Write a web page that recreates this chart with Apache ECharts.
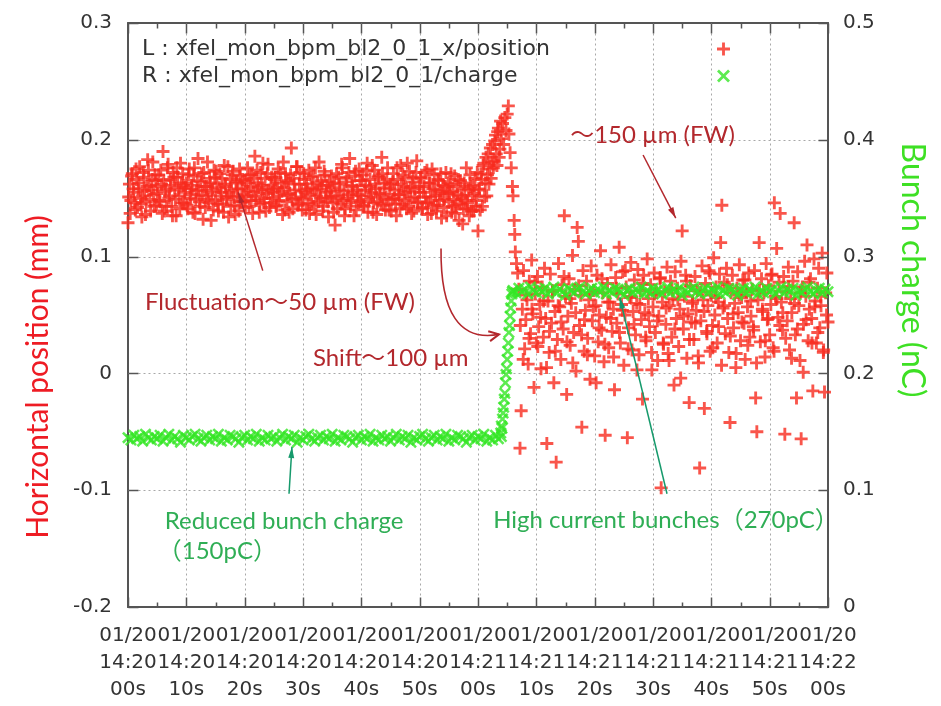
<!DOCTYPE html>
<html>
<head>
<meta charset="utf-8">
<script src="https://cdn.jsdelivr.net/npm/echarts@6/dist/echarts.min.js"></script>
<style>
html, body { margin: 0; padding: 0; background: #fff; }
#main { width: 941px; height: 706px; }
</style>
</head>
<body>
<div id="main"></div>
<script>
// x axis: seconds after 01/20 14:20:00
var xTickLabels = [
    '01/20\n14:20\n00s', '01/20\n14:20\n10s', '01/20\n14:20\n20s', '01/20\n14:20\n30s',
    '01/20\n14:20\n40s', '01/20\n14:20\n50s', '01/20\n14:21\n00s', '01/20\n14:21\n10s',
    '01/20\n14:21\n20s', '01/20\n14:21\n30s', '01/20\n14:21\n40s', '01/20\n14:21\n50s',
    '01/20\n14:22\n00s'
];
var xTicks = [0, 10, 20, 30, 40, 50, 60, 70, 80, 90, 100, 110, 120];
var xMinorTicks = [5, 15, 25, 35, 45, 55, 65, 75, 85, 95, 105, 115];
var yLeftTicks = [-0.2, -0.1, 0, 0.1, 0.2, 0.3];
var yRightTicks = [0, 0.1, 0.2, 0.3, 0.4, 0.5];

var redName = 'L : xfel_mon_bpm_bl2_0_1_x/position';
var greenName = 'R : xfel_mon_bpm_bl2_0_1/charge';

// horizontal position (mm), one sample every 0.25 s from 14:20:00
var redPre = [
    0.129,0.162,0.148,0.171,0.155,0.140,0.166,0.158,0.177,0.145,0.152,0.168,0.136,0.160,0.174,0.149,0.157,0.181,0.143,0.165,
    0.154,0.170,0.147,0.162,0.190,0.139,0.158,0.176,0.150,0.166,0.143,0.172,0.159,0.135,0.168,0.152,0.180,0.146,0.161,0.155,
    0.163,0.141,0.175,0.150,0.158,0.169,0.137,0.156,0.184,0.147,0.164,0.153,0.172,0.142,0.160,0.149,0.167,0.131,0.157,0.174,
    0.148,0.162,0.139,0.171,0.155,0.145,0.178,0.160,0.151,0.134,0.166,0.157,0.173,0.144,0.163,0.152,0.139,0.169,0.158,0.147,
    0.165,0.151,0.176,0.143,0.160,0.170,0.155,0.186,0.148,0.163,0.138,0.172,0.157,0.146,0.167,0.154,0.179,0.142,0.161,0.150,
    0.158,0.168,0.144,0.175,0.152,0.163,0.136,0.159,0.171,0.147,0.165,0.154,0.193,0.141,0.162,0.150,0.177,0.145,0.172,0.156,
    0.149,0.166,0.140,0.158,0.174,0.153,0.145,0.169,0.157,0.136,0.163,0.181,0.150,0.161,0.143,0.170,0.155,0.147,0.164,0.152,
    0.159,0.138,0.127,0.171,0.150,0.162,0.145,0.176,0.156,0.141,0.167,0.153,0.184,0.148,0.160,0.135,0.173,0.157,0.146,0.165,
    0.152,0.170,0.143,0.161,0.180,0.149,0.166,0.155,0.138,0.174,0.158,0.147,0.169,0.153,0.185,0.144,0.163,0.151,0.176,0.140,
    0.162,0.149,0.171,0.157,0.135,0.166,0.153,0.178,0.145,0.160,0.168,0.141,0.156,0.173,0.150,0.164,0.139,0.158,0.182,0.147,
    0.155,0.167,0.142,0.160,0.151,0.174,0.146,0.163,0.137,0.158,0.170,0.152,0.144,0.165,0.156,0.133,0.161,0.149,0.172,0.154,
    0.147,0.162,0.138,0.156,0.169,0.144,0.153,0.131,0.165,0.150,0.141,0.158,0.176,0.146,0.135,0.160,0.152,0.139,0.167,0.148,
    0.122,0.157,0.171,0.143,0.180,0.163,0.152,0.188,0.175,0.167,0.196,0.182,0.204,0.178,0.210,0.192
];
// the interleaved samples, every 0.25 s from 0.125 s
var redPre2 = [
    0.151,0.137,0.169,0.158,0.146,0.175,0.142,0.163,0.150,0.134,0.172,0.156,0.147,0.183,0.161,0.139,0.166,0.153,0.170,0.144,
    0.160,0.148,0.174,0.137,0.165,0.156,0.143,0.179,0.152,0.161,0.135,0.168,0.149,0.176,0.157,0.141,0.163,0.171,0.146,0.159,
    0.144,0.170,0.153,0.161,0.138,0.176,0.149,0.165,0.157,0.143,0.171,0.132,0.160,0.152,0.181,0.146,0.163,0.155,0.140,0.168,
    0.173,0.145,0.159,0.152,0.167,0.138,0.162,0.149,0.177,0.155,0.143,0.170,0.151,0.136,0.164,0.158,0.175,0.147,0.166,0.153,
    0.142,0.163,0.156,0.170,0.148,0.137,0.167,0.152,0.174,0.159,0.145,0.161,0.180,0.150,0.139,0.171,0.157,0.146,0.168,0.155,
    0.166,0.143,0.159,0.148,0.172,0.156,0.181,0.140,0.164,0.153,0.138,0.170,0.149,0.167,0.157,0.177,0.144,0.162,0.151,0.140,
    0.171,0.155,0.162,0.146,0.137,0.168,0.159,0.143,0.176,0.152,0.147,0.158,0.165,0.139,0.173,0.150,0.161,0.134,0.156,0.169,
    0.146,0.163,0.152,0.141,0.168,0.157,0.179,0.148,0.135,0.164,0.150,0.172,0.143,0.161,0.155,0.169,0.140,0.153,0.175,0.147,
    0.165,0.144,0.157,0.173,0.138,0.160,0.151,0.178,0.146,0.162,0.136,0.168,0.154,0.145,0.171,0.159,0.140,0.166,0.149,0.158,
    0.139,0.164,0.150,0.145,0.176,0.153,0.141,0.162,0.170,0.148,0.155,0.180,0.143,0.159,0.137,0.167,0.151,0.172,0.146,0.160,
    0.168,0.141,0.155,0.172,0.146,0.136,0.163,0.151,0.175,0.144,0.157,0.139,0.166,0.148,0.171,0.154,0.142,0.160,0.135,0.163,
    0.155,0.171,0.143,0.149,0.137,0.160,0.166,0.145,0.152,0.128,0.163,0.148,0.141,0.157,0.170,0.139,0.161,0.154,0.143,0.172,
    0.158,0.140,0.166,0.178,0.151,0.185,0.170,0.162,0.193,0.181,0.176,0.199,0.188,0.207,0.185,0.216
];
// the jump, [s, mm]
var redShift = [
    [64.0,0.201],[64.2,0.214],[64.4,0.196],[64.6,0.219],[64.8,0.208],[65.0,0.222],[65.2,0.229],[65.3,0.205],
    [65.5,0.189],[65.7,0.176],[65.9,0.160],[66.0,0.152],[66.2,0.131],[66.3,0.119],[66.4,0.104],[66.6,0.094],[66.8,0.086]
];
// after the jump, one sample every 0.2 s from 67 s
var redPost = [
    0.072,-0.064,-0.032,0.055,0.088,0.021,0.046,0.063,0.008,0.079,0.034,0.097,0.051,-0.012,0.068,0.026,0.083,0.040,0.059,0.004,0.074,0.031,0.090,0.047,-0.060,
    0.062,0.018,0.085,0.043,0.070,-0.008,0.053,-0.076,0.029,0.094,0.057,0.012,0.076,0.038,0.135,0.066,-0.018,0.049,0.081,0.024,0.060,0.101,0.035,0.072,0.002,
    0.125,0.113,0.041,0.067,-0.046,0.088,0.019,0.054,0.079,0.030,0.063,-0.005,0.092,0.045,0.071,0.015,0.058,0.084,0.027,0.050,0.105,0.037,0.069,0.010,-0.053,
    0.048,0.077,0.022,0.061,0.093,0.036,0.055,-0.014,0.082,0.043,0.068,0.108,0.026,0.059,0.087,0.007,0.050,0.074,-0.055,0.039,0.065,0.095,0.020,0.053,0.080,
    0.033,0.060,0.089,0.016,0.071,0.046,-0.022,0.084,0.052,0.028,0.098,0.064,0.040,0.076,0.003,0.057,0.086,0.035,0.069,0.011,0.049,0.081,-0.098,0.061,0.025,
    0.070,0.042,0.091,0.017,0.058,0.079,0.031,0.064,-0.010,0.087,0.047,0.073,0.023,0.055,0.096,0.122,0.038,0.066,0.084,0.013,0.051,-0.025,0.075,0.044,0.062,
    0.029,0.083,0.054,0.071,0.009,-0.081,0.045,0.092,0.063,-0.030,0.077,0.036,0.058,0.088,0.019,0.067,0.041,0.099,0.050,0.074,0.026,0.061,0.085,0.112,0.144,
    0.056,0.078,0.034,0.090,0.047,0.018,-0.042,0.069,0.084,0.039,0.060,0.005,0.073,0.052,0.093,0.028,0.065,0.080,0.043,0.012,0.070,0.057,0.086,0.031,0.049,
    0.072,0.040,0.088,-0.021,-0.050,0.063,0.112,0.027,0.081,0.053,0.069,0.014,0.094,0.046,0.075,0.033,0.059,0.085,0.022,0.146,0.066,0.107,0.048,0.078,0.137,
    0.061,0.037,0.083,-0.052,0.070,0.045,0.091,0.020,0.064,0.052,0.079,0.129,0.033,-0.021,0.087,0.058,0.011,-0.056,0.074,0.042,0.096,0.066,0.110,0.028,0.055,
    0.081,0.047,-0.015,0.098,0.062,0.026,0.073,0.090,0.039,0.058,0.103,0.018,-0.016,0.069,0.086,0.044
];
// extra samples after the jump, every 0.5 s from 67.25 s
var redPost2 = [
    0.041,0.012,0.067,0.030,0.055,0.078,0.023,0.048,0.062,0.005,
    0.036,0.071,0.019,0.058,0.044,0.083,0.027,0.064,0.009,0.052,
    0.075,0.033,0.046,0.016,0.069,0.057,-0.008,0.039,0.081,0.025,
    0.061,0.047,0.014,0.073,0.035,0.054,0.088,0.021,0.066,0.042,
    0.003,0.059,0.077,0.031,0.050,0.018,0.068,0.045,0.082,0.026,
    0.056,0.011,0.072,0.038,0.063,-0.004,0.049,0.079,0.029,0.060,
    0.043,0.015,0.070,0.053,0.034,0.086,0.022,0.065,0.040,0.007,
    0.058,0.076,0.032,0.051,0.017,0.067,0.044,0.080,0.024,0.062,
    0.037,0.009,0.071,0.055,0.028,0.047,0.084,0.019,0.064,0.041,
    0.052,0.030,0.074,0.013,0.060,0.038,0.069,0.001,0.046,0.078,
    0.026,0.057,0.035,0.066,0.020,0.050
];

// bunch charge (nC), one sample every 0.5 s from 0 s
var greenPre = [
    0.145,0.143,0.147,0.144,0.146,0.142,0.148,0.145,0.143,0.146,
    0.144,0.147,0.142,0.145,0.148,0.143,0.146,0.144,0.141,0.147,
    0.145,0.143,0.146,0.148,0.144,0.142,0.145,0.147,0.143,0.146,
    0.144,0.148,0.142,0.145,0.143,0.147,0.146,0.144,0.141,0.145,
    0.147,0.143,0.146,0.144,0.148,0.142,0.145,0.143,0.147,0.144,
    0.146,0.142,0.145,0.148,0.143,0.146,0.144,0.147,0.141,0.145,
    0.143,0.146,0.148,0.144,0.142,0.145,0.147,0.143,0.146,0.144,
    0.148,0.142,0.145,0.143,0.147,0.146,0.144,0.141,0.145,0.147,
    0.143,0.146,0.144,0.148,0.142,0.145,0.143,0.147,0.144,0.146,
    0.142,0.145,0.148,0.143,0.146,0.144,0.147,0.141,0.145,0.143,
    0.146,0.148,0.144,0.142,0.145,0.147,0.143,0.146,0.144,0.148,
    0.142,0.145,0.143,0.147,0.146,0.144,0.141,0.145,0.147,0.143,
    0.146,0.144,0.148,0.142,0.145,0.143,0.147,0.144,0.146
];
// the rise, [s, nC]
var greenRise = [
    [63.9,0.149],[64.0,0.155],[64.1,0.153],[64.2,0.161],[64.3,0.166],[64.4,0.171],[64.5,0.178],
    [64.6,0.183],[64.7,0.192],[64.8,0.199],[64.9,0.204],[65.0,0.212],[65.1,0.219],[65.2,0.226],
    [65.3,0.235],[65.4,0.241],[65.5,0.249],[65.6,0.256],[65.7,0.262],[65.8,0.268],[65.9,0.270]
];
// one sample every 0.5 s from 66 s
var greenPost = [
    0.271,0.269,0.273,0.270,0.272,0.268,0.274,0.271,0.269,0.272,
    0.270,0.273,0.268,0.271,0.274,0.269,0.272,0.270,0.267,0.273,
    0.271,0.269,0.272,0.274,0.270,0.268,0.271,0.273,0.269,0.272,
    0.270,0.274,0.268,0.271,0.269,0.273,0.272,0.270,0.267,0.271,
    0.273,0.269,0.272,0.270,0.274,0.268,0.271,0.269,0.273,0.270,
    0.272,0.268,0.271,0.274,0.269,0.272,0.270,0.273,0.267,0.271,
    0.269,0.272,0.274,0.270,0.268,0.271,0.273,0.269,0.272,0.270,
    0.274,0.268,0.271,0.269,0.273,0.272,0.270,0.267,0.271,0.273,
    0.269,0.272,0.270,0.274,0.268,0.271,0.269,0.273,0.270,0.272,
    0.268,0.271,0.274,0.269,0.272,0.270,0.273,0.267,0.271,0.269,
    0.272,0.274,0.270,0.268,0.271,0.273,0.269,0.272,0.270
];

function stepped(start, step, values) {
    return values.map(function (v, i) {
        return [Math.round((start + i * step) * 1000) / 1000, v];
    });
}

var redData = stepped(0, 0.25, redPre).concat(
    stepped(0.125, 0.25, redPre2), redShift,
    stepped(67, 0.2, redPost), stepped(67.25, 0.5, redPost2));
var greenData = stepped(0, 0.5, greenPre).concat(greenRise, stepped(66, 0.5, greenPost));

var RED = '#f72a1e';
var GREEN = '#35e625';
var plusPath = 'path://M3.9,0H6.1V3.9H10V6.1H6.1V10H3.9V6.1H0V3.9H3.9Z';
var crossPath = 'path://M0,1.5L1.5,0L5,3.5L8.5,0L10,1.5L6.5,5L10,8.5L8.5,10L5,6.5L1.5,10L0,8.5L3.5,5Z';
var tickFont = 'DejaVu Sans';
var annoFont = "Lato, 'Noto Sans CJK JP', sans-serif";
var AXIS = '#555';

var chart = echarts.init(document.getElementById('main'));

function axisBase(min, max, interval, pos) {
    return {
        type: 'value',
        position: pos,
        min: min,
        max: max,
        interval: interval,
        axisLine: { show: true, onZero: false, lineStyle: { color: AXIS, width: 2 } },
        axisTick: { show: false },
        splitLine: { show: false }
    };
}

var xBottom = axisBase(0, 120, 10, 'bottom');
xBottom.axisLabel = {
    margin: 15,
    fontFamily: tickFont,
    fontSize: 20,
    lineHeight: 27,
    color: '#333',
    formatter: function (v) { return xTickLabels[xTicks.indexOf(Math.round(v))]; }
};
var xTop = axisBase(0, 120, 10, 'top');
xTop.axisLabel = { show: false };
var yLeft = axisBase(-0.2, 0.3, 0.1, 'left');
yLeft.axisLabel = { margin: 16, fontFamily: tickFont, fontSize: 20, color: '#333' };
var yRight = axisBase(0, 0.5, 0.1, 'right');
yRight.axisLabel = { margin: 15, fontFamily: tickFont, fontSize: 20, color: '#333' };

var option = {
    animation: false,
    grid: { left: 128, right: 113, top: 23, bottom: 99 },
    legend: {
        left: 137,
        top: 33,
        orient: 'vertical',
        align: 'right',
        itemWidth: 13,
        itemHeight: 13,
        itemGap: 5,
        selectedMode: false,
        formatter: function (name) { return '{t|' + name + '}'; },
        textStyle: {
            rich: { t: { width: 570, align: 'left', fontFamily: tickFont, fontSize: 22, color: '#333' } }
        },
        data: [
            { name: redName, icon: plusPath },
            { name: greenName, icon: crossPath }
        ]
    },
    xAxis: [xBottom, xTop],
    yAxis: [yLeft, yRight],
    series: [{
        name: redName,
        type: 'scatter',
        symbol: plusPath,
        symbolSize: 13,
        itemStyle: { color: RED },
        silent: true,
        data: redData
    }, {
        name: greenName,
        type: 'scatter',
        yAxisIndex: 1,
        symbol: crossPath,
        symbolSize: 12,
        itemStyle: { color: GREEN },
        silent: true,
        data: greenData
    }]
};

chart.setOption(option);

// pixel position of a data point, through the axes' own scales
function px(t, v, yIdx) {
    return chart.convertToPixel({ xAxisIndex: 0, yAxisIndex: yIdx || 0 }, [t, v]);
}
function crisp(n) { return Math.round(n) + 0.5; }

function seg(x1, y1, x2, y2, style, z) {
    return {
        type: 'line', silent: true, z: z,
        shape: { x1: x1, y1: y1, x2: x2, y2: y2 },
        style: echarts.util.clone(style)
    };
}

// grid lines and inward ticks
var plotLeft = crisp(px(0, 0)[0]), plotRight = crisp(px(120, 0)[0]);
var plotTop = crisp(px(0, 0.3)[1]), plotBottom = crisp(px(0, -0.2)[1]);
var dotStyle = { stroke: '#a8a8a8', lineWidth: 1, lineDash: [2, 3] };
var tickStyle = { stroke: AXIS, lineWidth: 1.5 };
var frameEls = [];

xTicks.forEach(function (t) {
    var x = crisp(px(t, 0)[0]);
    if (t > 0 && t < 120) frameEls.push(seg(x, plotTop, x, plotBottom, dotStyle, 1));
    frameEls.push(seg(x, plotBottom, x, plotBottom - 10, tickStyle, 20));
    frameEls.push(seg(x, plotTop, x, plotTop + 10, tickStyle, 20));
});
xMinorTicks.forEach(function (t) {
    var x = crisp(px(t, 0)[0]);
    frameEls.push(seg(x, plotBottom, x, plotBottom - 5, tickStyle, 20));
    frameEls.push(seg(x, plotTop, x, plotTop + 5, tickStyle, 20));
});
yLeftTicks.forEach(function (v) {
    var y = crisp(px(0, v)[1]);
    if (v > -0.15 && v < 0.25) frameEls.push(seg(plotLeft, y, plotRight, y, dotStyle, 1));
    frameEls.push(seg(plotLeft, y, plotLeft + 10, y, tickStyle, 20));
});
yRightTicks.forEach(function (v) {
    var y = crisp(px(0, v, 1)[1]);
    frameEls.push(seg(plotRight, y, plotRight - 10, y, tickStyle, 20));
});

// annotations, anchored in data coordinates (s, mm)
var NOTE_RED = '#b3282d';
var NOTE_GREEN = '#2fae55';
var ARROW_GREEN = '#169a6c';

function note(text, t, v, color) {
    var p = px(t, v);
    return {
        type: 'text', x: p[0], y: p[1], silent: true, z: 30,
        style: { text: text, fill: color, fontSize: 24, fontFamily: annoFont, textVerticalAlign: 'middle' }
    };
}

function head(tip, from, color, len, half, open) {
    var dx = tip[0] - from[0], dy = tip[1] - from[1];
    var d = Math.sqrt(dx * dx + dy * dy);
    var ux = dx / d, uy = dy / d;
    var bx = tip[0] - ux * len, by = tip[1] - uy * len;
    var pts = [[bx - uy * half, by + ux * half], [tip[0], tip[1]], [bx + uy * half, by - ux * half]];
    if (open) {
        return { type: 'polyline', silent: true, z: 30, shape: { points: pts }, style: { stroke: color, lineWidth: 2, fill: null } };
    }
    return { type: 'polygon', silent: true, z: 30, shape: { points: pts }, style: { fill: color } };
}

function arrow(t0, v0, t1, v1, color) {
    var p0 = px(t0, v0), p1 = px(t1, v1);
    return [
        seg(p0[0], p0[1], p1[0], p1[1], { stroke: color, lineWidth: 1.5 }, 30),
        head(p1, p0, color, 11, 3)
    ];
}

var s0 = px(53.66, 0.107), sc = px(53.49, 0.024), s1 = px(63.6, 0.0334);

var graphics = frameEls.concat([
    note('Fluctuation～50 µm (FW)', 2.9, 0.061, NOTE_RED),
    note('Shift～100 µm', 31.7, 0.0128, NOTE_RED),
    note('～150 µm (FW)', 75.8, 0.204, NOTE_RED),
    note('Reduced bunch charge', 6.3, -0.127, NOTE_GREEN),
    note('（150pC）', 5.1, -0.152, NOTE_GREEN),
    note('High current bunches（270pC）', 62.6, -0.126, NOTE_GREEN),
    {
        type: 'bezierCurve', silent: true, z: 30,
        shape: { x1: s0[0], y1: s0[1], cpx1: sc[0], cpy1: sc[1], x2: s1[0], y2: s1[1] },
        style: { stroke: NOTE_RED, lineWidth: 1.6, fill: null }
    },
    head(s1, sc, NOTE_RED, 10, 5, true),
    {
        type: 'text', x: 38, y: 377, rotation: Math.PI / 2, silent: true,
        style: { text: 'Horizontal position (mm)', fill: '#ee1c24', fontSize: 30, fontFamily: annoFont, textAlign: 'center', textVerticalAlign: 'middle' }
    },
    {
        type: 'text', x: 912, y: 270, rotation: -Math.PI / 2, silent: true,
        style: { text: 'Bunch charge (nC)', fill: '#3ee024', fontSize: 32, fontFamily: annoFont, textAlign: 'center', textVerticalAlign: 'middle' }
    }
], arrow(23.1, 0.088, 18.9, 0.155, NOTE_RED),
    arrow(88.3, 0.187, 93.9, 0.133, NOTE_RED),
    arrow(27.6, -0.103, 28.1, -0.063, ARROW_GREEN),
    arrow(92.4, -0.103, 84.3, 0.065, ARROW_GREEN));

chart.setOption({ graphic: graphics });
</script>
</body>
</html>
